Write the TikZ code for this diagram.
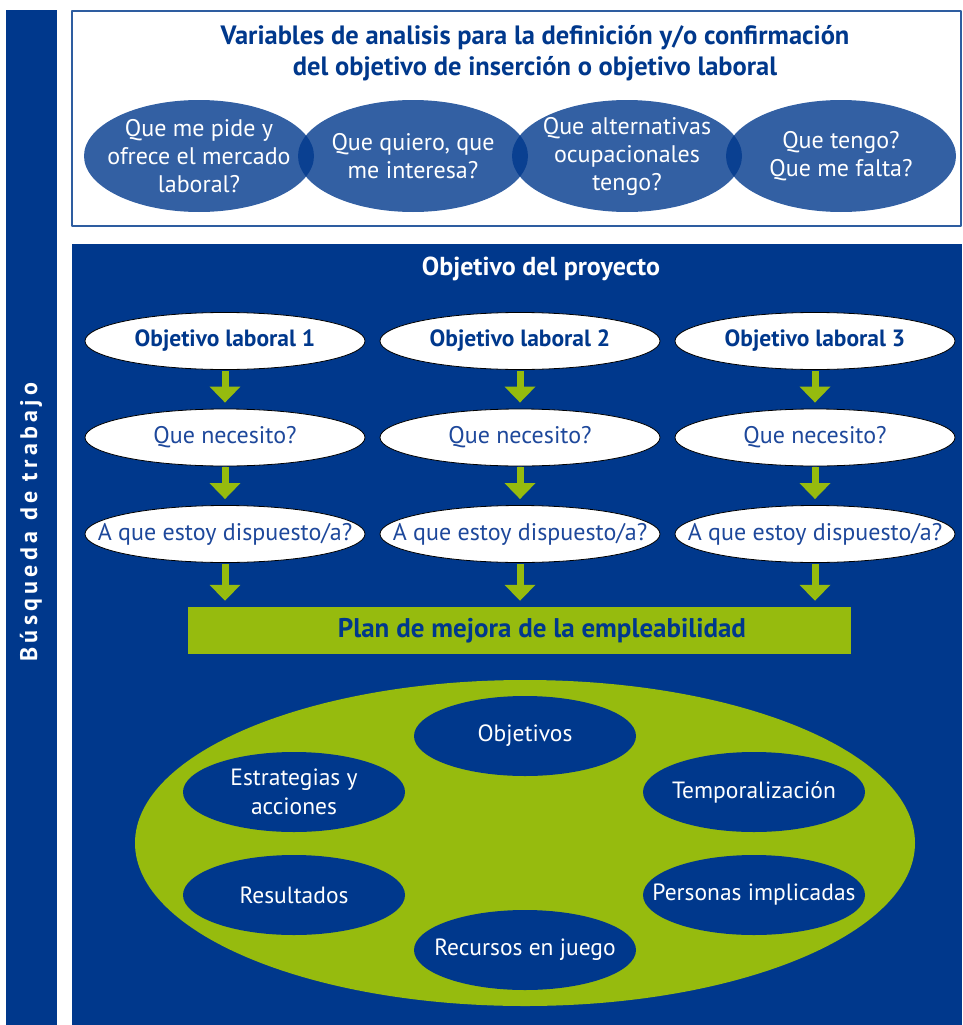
\documentclass[tikz,border=0pt]{standalone}
\usepackage{fontspec}
\setmainfont{PT Sans}
\newfontfamily\spacedfont{PT Sans}[LetterSpace=18]
\usetikzlibrary{shapes.geometric}
\usetikzlibrary{arrows.meta}

\definecolor{panelblue}{RGB}{0,56,140}
\definecolor{leafgreen}{RGB}{150,187,14}
\definecolor{frameblue}{RGB}{46,93,160}
\definecolor{softblue}{RGB}{30,72,155}

\begin{document}
\begin{tikzpicture}[x=1pt, y=-1pt, line join=bevel]

    % one unit is one pixel of the page, y grows downwards;
    % the texts sit in labels so that they do not widen the ellipses
    \tikzset{%
      question/.style   = {ellipse, fill=panelblue, fill opacity=0.8,
                           minimum width=230pt, minimum height=112pt, inner sep=0pt,
                           label={[text=white, align=center, text opacity=1,
                                   font=\fontsize{24}{28}\selectfont]center:#1}},
      goal/.style       = {ellipse, draw=black, line width=0.8pt, fill=white,
                           minimum width=280pt, minimum height=57pt, inner sep=0pt,
                           label={[text=softblue, font=\fontsize{24}{28}\selectfont]center:#1}},
      element/.style    = {ellipse, fill=panelblue, minimum width=222pt,
                           minimum height=80pt, inner sep=0pt,
                           label={[text=white, align=center,
                                   font=\fontsize{23.5}{29}\selectfont]center:#1}},
      down_arrow/.style = {leafgreen, line width=7pt,
                           -{Triangle[width=30pt,length=16pt]},
                           shorten <=1pt, shorten >=6pt}
    }

    \useasboundingbox (0,0) rectangle (963,1025);

    % side bar
    \fill[panelblue] (6,10) rectangle (57,1025);
    \node[rotate=90, text=white, font=\spacedfont\bfseries\fontsize{24}{28}\selectfont]
      (side) at (31,522) {Búsqueda de trabajo};

    % upper frame with the four questions
    \draw[frameblue, line width=2pt] (72,11) rectangle (961,226);
    \node[text=panelblue, align=center, font=\bfseries\fontsize{26.5}{31}\selectfont]
      (title) at (535,53) {Variables de analisis para la definición y/o confirmación\\
                           del objetivo de inserción o objetivo laboral};

    \foreach \x/\name/\txt in {%
      199/q1/{Que me pide y\\ofrece el mercado\\laboral?},
      413/q2/{Que quiero, que\\me interesa?},
      627/q3/{Que alternativas\\ocupacionales\\tengo?},
      841/q4/{Que tengo?\\Que me falta?}%
    }{
      \node[question=\txt] (\name) at (\x,156) {};
    }

    % lower panel
    \fill[panelblue] (72,244) rectangle (962,1025);
    \node[text=white, font=\bfseries\fontsize{26}{30}\selectfont]
      (head) at (541,269) {Objetivo del proyecto};

    \node[fill=leafgreen, minimum width=663pt, minimum height=47pt, inner sep=0pt]
      (plan) at (519.5,630.5) {};
    \node[text=panelblue, font=\bfseries\fontsize{27}{31}\selectfont]
      (planlabel) at (542,631) {Plan de mejora de la empleabilidad};

    \foreach \i/\x in {1/225, 2/520, 3/815}{
      \node[goal={\bfseries\color{panelblue}\fontsize{23.5}{28}\selectfont Objetivo laboral \i}]
        (g\i) at (\x,341) {};
      \node[goal={Que necesito?}] (n\i) at (\x,437.5) {};
      \node[goal={A que estoy dispuesto/a?}] (d\i) at (\x,534) {};
      \draw[down_arrow] (g\i) -- (n\i);
      \draw[down_arrow] (n\i) -- (d\i);
      \draw[down_arrow] (d\i.south) -- (d\i.south |- plan.north);
    }

    % the plan and its parts
    \node[ellipse, fill=leafgreen, minimum width=780pt, minimum height=326pt, inner sep=0pt]
      (plate) at (525,843) {};

    \foreach \x/\y/\name/\txt in {%
      525/736/objectives/{Objetivos},
      294/792/strategies/{Estrategias y\\acciones},
      754/792/timing/{Temporalización},
      294/895/results/{Resultados},
      754/895/people/{Personas implicadas},
      525/950/resources/{Recursos en juego}%
    }{
      \node[element=\txt] (\name) at (\x,\y) {};
    }

\end{tikzpicture}
\end{document}
